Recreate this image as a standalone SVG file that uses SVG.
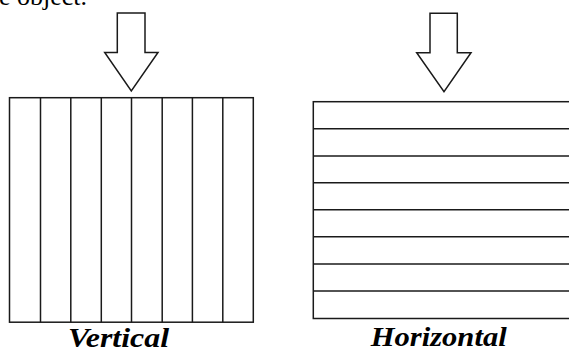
<svg xmlns="http://www.w3.org/2000/svg" width="569" height="354" viewBox="0 0 569 354">
<style>
.s{fill:#fff;stroke:#1a1a1a;stroke-width:1.5;stroke-linejoin:miter}
.l{stroke:#1a1a1a;stroke-width:1.5;fill:none}
.lab{font-family:"Liberation Serif","Times New Roman",serif;font-weight:bold;font-style:italic;font-size:27px;fill:#000}
.top{font-family:"Liberation Serif","Times New Roman",serif;font-size:26px;fill:#000}
</style>
<rect width="569" height="354" fill="#fff"/>
<text class="top" x="-1" y="5">e object.</text>
<g id="vertical">
<polygon class="s" points="117.3,13 145,13 145,52.5 158,52.5 131.3,91 104.7,52.5 117.3,52.5"/>
<rect class="s" x="9.5" y="97.7" width="243.8" height="224.5"/>
<g class="l">
<line x1="40.5" y1="97.7" x2="40.5" y2="322.2"/>
<line x1="70.8" y1="97.7" x2="70.8" y2="322.2"/>
<line x1="101.3" y1="97.7" x2="101.3" y2="322.2"/>
<line x1="131.5" y1="97.7" x2="131.5" y2="322.2"/>
<line x1="162.2" y1="97.7" x2="162.2" y2="322.2"/>
<line x1="192.4" y1="97.7" x2="192.4" y2="322.2"/>
<line x1="222.8" y1="97.7" x2="222.8" y2="322.2"/>
</g>
<text class="lab" x="68" y="347" textLength="101" lengthAdjust="spacingAndGlyphs">Vertical</text>
</g>
<g id="horizontal">
<polygon class="s" points="430,13.3 457.3,13.3 457.3,52.7 471,52.7 444,91.7 416.7,52.7 430,52.7"/>
<rect class="s" x="313.3" y="101.7" width="270" height="216.8"/>
<g class="l">
<line x1="313.3" y1="128.8" x2="569" y2="128.8"/>
<line x1="313.3" y1="156" x2="569" y2="156"/>
<line x1="313.3" y1="182.8" x2="569" y2="182.8"/>
<line x1="313.3" y1="209.8" x2="569" y2="209.8"/>
<line x1="313.3" y1="236.8" x2="569" y2="236.8"/>
<line x1="313.3" y1="264" x2="569" y2="264"/>
<line x1="313.3" y1="291" x2="569" y2="291"/>
</g>
<text class="lab" x="370.7" y="346" textLength="136" lengthAdjust="spacingAndGlyphs">Horizontal</text>
</g>
</svg>
